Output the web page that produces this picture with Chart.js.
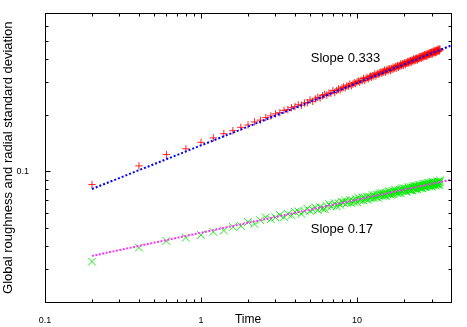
<!DOCTYPE html>
<html>
<head>
<meta charset="utf-8">
<script src="https://cdn.jsdelivr.net/npm/chart.js@4/dist/chart.umd.min.js"></script>
<style>
  body { margin: 0; background: #fff; }
  canvas { display: block; }
</style>
</head>
<body>
<canvas id="myChart" width="467" height="327"></canvas>
<script>
// data (time step 0.2)
var times = [
  0.2, 0.4, 0.6, 0.8, 1, 1.2, 1.4, 1.6, 1.8, 2,
  2.2, 2.4, 2.6, 2.8, 3, 3.2, 3.4, 3.6, 3.8, 4,
  4.2, 4.4, 4.6, 4.8, 5, 5.2, 5.4, 5.6, 5.8, 6,
  6.2, 6.4, 6.6, 6.8, 7, 7.2, 7.4, 7.6, 7.8, 8,
  8.2, 8.4, 8.6, 8.8, 9, 9.2, 9.4, 9.6, 9.8, 10,
  10.2, 10.4, 10.6, 10.8, 11, 11.2, 11.4, 11.6, 11.8, 12,
  12.2, 12.4, 12.6, 12.8, 13, 13.2, 13.4, 13.6, 13.8, 14,
  14.2, 14.4, 14.6, 14.8, 15, 15.2, 15.4, 15.6, 15.8, 16,
  16.2, 16.4, 16.6, 16.8, 17, 17.2, 17.4, 17.6, 17.8, 18,
  18.2, 18.4, 18.6, 18.8, 19, 19.2, 19.4, 19.6, 19.8, 20,
  20.2, 20.4, 20.6, 20.8, 21, 21.2, 21.4, 21.6, 21.8, 22,
  22.2, 22.4, 22.6, 22.8, 23, 23.2, 23.4, 23.6, 23.8, 24,
  24.2, 24.4, 24.6, 24.8, 25, 25.2, 25.4, 25.6, 25.8, 26,
  26.2, 26.4, 26.6, 26.8, 27, 27.2, 27.4, 27.6, 27.8, 28,
  28.2, 28.4, 28.6, 28.8, 29, 29.2, 29.4, 29.6, 29.8, 30,
  30.2, 30.4, 30.6, 30.8, 31, 31.2, 31.4, 31.6, 31.8, 32,
  32.2, 32.4, 32.6, 32.8, 33, 33.2, 33.4, 33.6, 33.8, 34
];

// global roughness (red +)
var roughness = [
  0.085, 0.107, 0.123, 0.132, 0.143, 0.151, 0.159, 0.165, 0.172, 0.177,
  0.184, 0.188, 0.194, 0.198, 0.203, 0.206, 0.212, 0.214, 0.219, 0.222,
  0.227, 0.226, 0.232, 0.233, 0.241, 0.237, 0.244, 0.249, 0.247, 0.254,
  0.258, 0.256, 0.262, 0.262, 0.270, 0.264, 0.271, 0.276, 0.273, 0.279,
  0.283, 0.280, 0.286, 0.286, 0.293, 0.287, 0.293, 0.298, 0.295, 0.301,
  0.304, 0.300, 0.307, 0.306, 0.314, 0.306, 0.313, 0.318, 0.313, 0.320,
  0.323, 0.319, 0.325, 0.324, 0.332, 0.324, 0.330, 0.335, 0.330, 0.337,
  0.340, 0.335, 0.341, 0.340, 0.348, 0.339, 0.346, 0.351, 0.345, 0.352,
  0.354, 0.346, 0.355, 0.352, 0.361, 0.354, 0.358, 0.363, 0.356, 0.364,
  0.368, 0.360, 0.368, 0.366, 0.375, 0.367, 0.372, 0.377, 0.369, 0.377,
  0.381, 0.372, 0.381, 0.379, 0.387, 0.379, 0.384, 0.389, 0.381, 0.390,
  0.393, 0.384, 0.393, 0.390, 0.399, 0.391, 0.396, 0.401, 0.392, 0.401,
  0.404, 0.395, 0.404, 0.401, 0.411, 0.402, 0.407, 0.412, 0.403, 0.412,
  0.415, 0.406, 0.415, 0.412, 0.421, 0.412, 0.417, 0.422, 0.413, 0.422,
  0.425, 0.416, 0.425, 0.422, 0.431, 0.422, 0.427, 0.432, 0.423, 0.432,
  0.435, 0.425, 0.435, 0.432, 0.441, 0.431, 0.436, 0.442, 0.432, 0.441,
  0.444, 0.434, 0.444, 0.441, 0.450, 0.440, 0.446, 0.451, 0.441, 0.450
];

// radial standard deviation (green x)
var radialStd = [
  0.0329, 0.0391, 0.0424, 0.0442, 0.0457, 0.0474, 0.0483, 0.0504, 0.0510, 0.0536,
  0.0523, 0.0548, 0.0567, 0.0555, 0.0567, 0.0585, 0.0568, 0.0592, 0.0583, 0.0606,
  0.0611, 0.0592, 0.0614, 0.0631, 0.0615, 0.0624, 0.0641, 0.0620, 0.0643, 0.0632,
  0.0629, 0.0651, 0.0668, 0.0648, 0.0659, 0.0675, 0.0651, 0.0675, 0.0662, 0.0685,
  0.0681, 0.0697, 0.0676, 0.0686, 0.0702, 0.0677, 0.0700, 0.0686, 0.0710, 0.0684,
  0.0722, 0.0699, 0.0708, 0.0726, 0.0699, 0.0723, 0.0708, 0.0731, 0.0704, 0.0729,
  0.0720, 0.0729, 0.0746, 0.0719, 0.0743, 0.0726, 0.0750, 0.0723, 0.0747, 0.0764,
  0.0747, 0.0763, 0.0735, 0.0760, 0.0743, 0.0768, 0.0738, 0.0763, 0.0780, 0.0755,
  0.0780, 0.0751, 0.0776, 0.0758, 0.0783, 0.0754, 0.0778, 0.0796, 0.0769, 0.0779,
  0.0764, 0.0790, 0.0771, 0.0797, 0.0766, 0.0792, 0.0809, 0.0783, 0.0792, 0.0810,
  0.0803, 0.0784, 0.0810, 0.0779, 0.0804, 0.0822, 0.0795, 0.0804, 0.0822, 0.0791,
  0.0796, 0.0822, 0.0791, 0.0816, 0.0833, 0.0807, 0.0816, 0.0833, 0.0801, 0.0828,
  0.0833, 0.0801, 0.0827, 0.0846, 0.0818, 0.0827, 0.0844, 0.0812, 0.0838, 0.0819,
  0.0812, 0.0838, 0.0856, 0.0827, 0.0837, 0.0855, 0.0822, 0.0848, 0.0829, 0.0855,
  0.0848, 0.0866, 0.0837, 0.0847, 0.0865, 0.0832, 0.0858, 0.0838, 0.0865, 0.0831,
  0.0875, 0.0846, 0.0856, 0.0874, 0.0840, 0.0867, 0.0847, 0.0874, 0.0840, 0.0867,
  0.0855, 0.0865, 0.0883, 0.0848, 0.0875, 0.0855, 0.0882, 0.0848, 0.0875, 0.0894
];

// fitted power laws, end points
var fitTimes = [0.2, 40];
var fitRoughness = [0.0805, 0.471];   // slope 0.333
var fitRadial = [0.0353, 0.0902];     // slope 0.17

// ticks
var xTickValues = [0.1, 1, 10];
var xTickLabels = ["0.1", "1", "10"];
var xMinorTicks = [0.2, 0.3, 0.4, 0.5, 0.6, 0.7, 0.8, 0.9, 2, 3, 4, 5, 6, 7, 8, 9, 20, 30];
var yTickValues = [0.1];
var yTickLabels = ["0.1"];
var yMinorTicks = [0.03, 0.04, 0.05, 0.06, 0.07, 0.08, 0.09, 0.2, 0.3, 0.4, 0.5, 0.6];

// annotations
var slopeLabels = ["Slope 0.333", "Slope 0.17"];
var slopeLabelTimes = [5.05, 5.05];
var slopeLabelValues = [0.40, 0.049];

function toPoints(xs, ys) {
  return ys.map(function (v, i) { return { x: xs[i], y: v }; });
}

var FONT = '"Liberation Sans", Arial, sans-serif';

// border, inward ticks on all four sides, slope texts
var framePlugin = {
  id: 'frame',
  afterDraw: function (chart) {
    var ctx = chart.ctx, a = chart.chartArea;
    var xs = chart.scales.x, ys = chart.scales.y;
    var L = Math.floor(a.left) + 0.5, R = Math.floor(a.right) + 0.5;
    var T = Math.floor(a.top) + 0.5, B = Math.floor(a.bottom) + 0.5;
    ctx.save();
    ctx.strokeStyle = '#000';
    ctx.lineWidth = 1;
    ctx.beginPath();
    function xTick(v, len) {
      var p = Math.round(xs.getPixelForValue(v)) + 0.5;
      ctx.moveTo(p, B); ctx.lineTo(p, B - len);
      ctx.moveTo(p, T); ctx.lineTo(p, T + len);
    }
    function yTick(v, len) {
      var p = Math.round(ys.getPixelForValue(v)) + 0.5;
      ctx.moveTo(L, p); ctx.lineTo(L + len, p);
      ctx.moveTo(R, p); ctx.lineTo(R - len, p);
    }
    xTickValues.forEach(function (v) { xTick(v, 5); });
    xMinorTicks.forEach(function (v) { xTick(v, 3); });
    yTickValues.forEach(function (v) { yTick(v, 5); });
    yMinorTicks.forEach(function (v) { yTick(v, 3); });
    ctx.stroke();
    ctx.strokeRect(L, T, R - L, B - T);

    ctx.fillStyle = '#000';
    ctx.font = '13px ' + FONT;
    ctx.textBaseline = 'middle';
    ctx.textAlign = 'left';
    slopeLabels.forEach(function (s, i) {
      ctx.fillText(s, xs.getPixelForValue(slopeLabelTimes[i]), ys.getPixelForValue(slopeLabelValues[i]));
    });
    ctx.restore();
  }
};

var ctx = document.getElementById('myChart').getContext('2d');
var chart = new Chart(ctx, {
  type: 'scatter',
  data: {
    datasets: [
      {
        label: 'fit 0.333',
        data: toPoints(fitTimes, fitRoughness),
        showLine: true,
        borderColor: '#0000ff',
        borderWidth: 2,
        borderDash: [2, 2],
        pointRadius: 0,
        fill: false
      },
      {
        label: 'fit 0.17',
        data: toPoints(fitTimes, fitRadial),
        showLine: true,
        borderColor: '#ff33ff',
        borderWidth: 2,
        borderDash: [2, 1.5],
        pointRadius: 0,
        fill: false
      },
      {
        label: 'Global roughness',
        data: toPoints(times, roughness),
        pointStyle: 'cross',
        pointRadius: 3.7,
        borderWidth: 1,
        borderColor: 'rgba(255, 0, 0, 0.85)',
        backgroundColor: 'rgba(255, 0, 0, 0.85)'
      },
      {
        label: 'Radial standard deviation',
        data: toPoints(times, radialStd),
        pointStyle: 'crossRot',
        pointRadius: 5.5,
        borderWidth: 1,
        borderColor: 'rgba(0, 235, 0, 0.9)',
        backgroundColor: 'rgba(0, 235, 0, 0.9)'
      }
    ]
  },
  options: {
    responsive: false,
    animation: false,
    layout: { padding: { top: 11, right: 16, left: 0, bottom: 0 } },
    plugins: {
      legend: { display: false },
      tooltip: { enabled: false }
    },
    scales: {
      x: {
        type: 'logarithmic',
        min: 0.1,
        max: 40,
        grid: { display: false },
        border: { display: false },
        afterBuildTicks: function (scale) {
          scale.ticks = xTickValues.map(function (v) { return { value: v }; });
        },
        afterFit: function (scale) { scale.height = 25; },
        ticks: {
          autoSkip: false,
          maxRotation: 0,
          padding: 5,
          color: '#000',
          font: { family: FONT, size: 9 },
          callback: function (v, i) { return xTickLabels[i]; }
        },
        title: {
          display: true,
          text: 'Time',
          color: '#000',
          font: { family: FONT, size: 12 },
          padding: { top: 0, bottom: 0 }
        }
      },
      y: {
        type: 'logarithmic',
        min: 0.02,
        max: 0.7,
        grid: { display: false },
        border: { display: false },
        afterBuildTicks: function (scale) {
          scale.ticks = yTickValues.map(function (v) { return { value: v }; });
        },
        afterFit: function (scale) { scale.width = 45; },
        ticks: {
          autoSkip: false,
          padding: 8,
          color: '#000',
          font: { family: FONT, size: 9 },
          callback: function (v, i) { return yTickLabels[i]; }
        },
        title: {
          display: true,
          text: 'Global roughness and radial standard deviation',
          color: '#000',
          font: { family: FONT, size: 13 },
          padding: { top: 1, bottom: 0 }
        }
      }
    }
  },
  plugins: [framePlugin]
});
</script>
</body>
</html>
